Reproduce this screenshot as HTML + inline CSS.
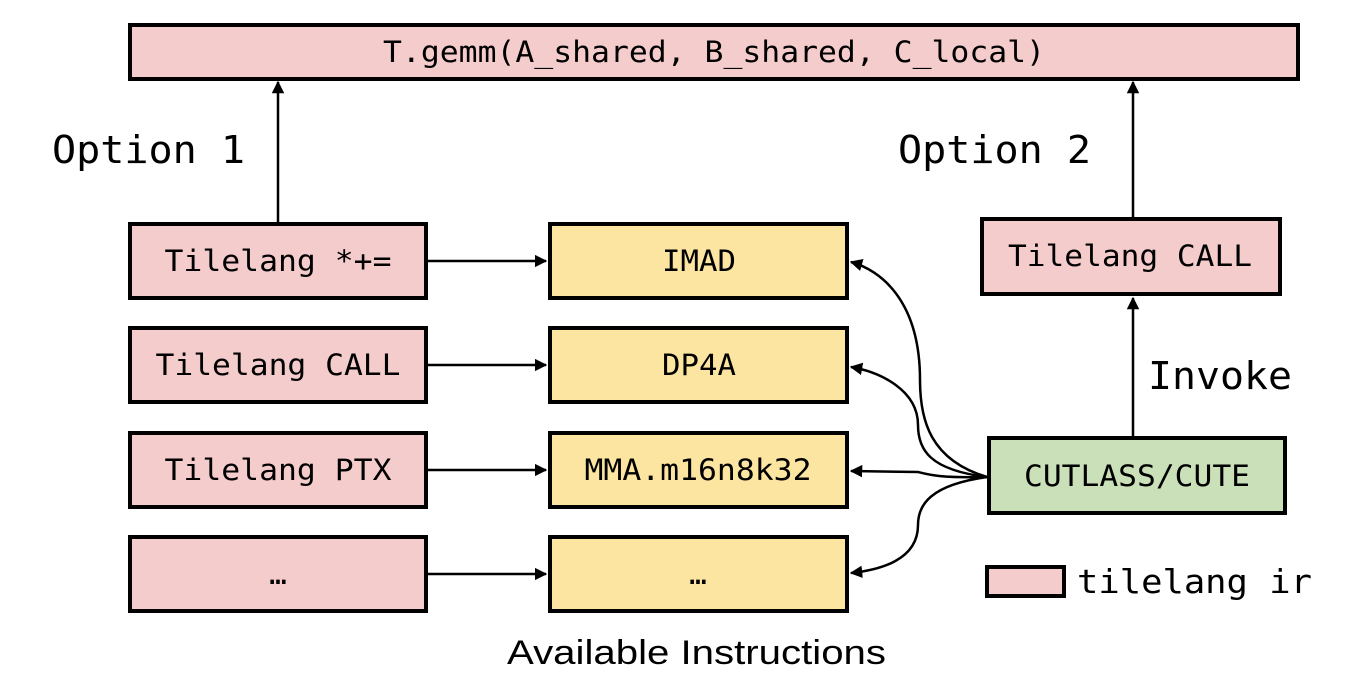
<!DOCTYPE html>
<html><head><style>
body{margin:0;background:#fff}
svg{display:block}
.m{font-family:"DejaVu Sans Mono","Liberation Mono",monospace}
</style></head><body>
<svg width="1352" height="696" viewBox="0 0 1352 696">
<defs><marker id="a" viewBox="0 0 10 10" refX="9" refY="5" markerWidth="5" markerHeight="5" orient="auto"><path d="M0,0L10,5L0,10z" fill="#000"/></marker></defs>
<g stroke="#000" stroke-width="4">
<rect x="130" y="25" width="1168" height="54" fill="#f5cccc"/>
<rect x="130" y="224" width="296" height="74" fill="#f5cccc"/>
<rect x="130" y="328" width="296" height="74" fill="#f5cccc"/>
<rect x="130" y="433" width="296" height="74" fill="#f5cccc"/>
<rect x="130" y="537" width="296" height="74" fill="#f5cccc"/>
<rect x="550" y="224" width="297" height="74" fill="#fbe5a0"/>
<rect x="550" y="328" width="297" height="74" fill="#fbe5a0"/>
<rect x="550" y="433" width="297" height="74" fill="#fbe5a0"/>
<rect x="550" y="537" width="297" height="74" fill="#fbe5a0"/>
<rect x="982" y="219" width="298" height="75" fill="#f5cccc"/>
<rect x="989" y="438" width="296" height="75" fill="#c9e0b8"/>
<rect x="987" y="567" width="77" height="29" fill="#f5cccc"/>
</g>
<g stroke="#000" stroke-width="2.5" fill="none" marker-end="url(#a)">
<path d="M278,222V82"/>
<path d="M1133,217V82"/>
<path d="M1133,436V298"/>
<path d="M427,261H546"/>
<path d="M427,365H546"/>
<path d="M427,470H546"/>
<path d="M427,574H546"/>
<path d="M987,477C930,460 920,420 920,380C920,300 880,270 851,262"/>
<path d="M987,477C930,470 918,450 918,425C918,390 880,372 851,367"/>
<path d="M987,477C940,478 930,475 918,472L851,471"/>
<path d="M987,477C930,485 918,505 918,525C918,560 880,570 851,573"/>
</g>
<g class="m" font-size="29" text-anchor="middle" fill="#000" lengthAdjust="spacingAndGlyphs">
<text x="714" y="62" textLength="662" lengthAdjust="spacingAndGlyphs">T.gemm(A_shared, B_shared, C_local)</text>
<text x="278" y="271" textLength="227" lengthAdjust="spacingAndGlyphs">Tilelang *+=</text>
<text x="278" y="375" textLength="245" lengthAdjust="spacingAndGlyphs">Tilelang CALL</text>
<text x="278" y="480" textLength="227" lengthAdjust="spacingAndGlyphs">Tilelang PTX</text>
<text x="278" y="584">…</text>
<text x="699" y="271" textLength="74" lengthAdjust="spacingAndGlyphs">IMAD</text>
<text x="699" y="375" textLength="74" lengthAdjust="spacingAndGlyphs">DP4A</text>
<text x="698" y="480" textLength="227" lengthAdjust="spacingAndGlyphs">MMA.m16n8k32</text>
<text x="698" y="584">…</text>
<text x="1130" y="266" textLength="244" lengthAdjust="spacingAndGlyphs">Tilelang CALL</text>
<text x="1137" y="486" textLength="226" lengthAdjust="spacingAndGlyphs">CUTLASS/CUTE</text>
</g>
<g class="m" font-size="38" fill="#000">
<text x="52" y="163" textLength="193" lengthAdjust="spacingAndGlyphs">Option 1</text>
<text x="898" y="163" textLength="193" lengthAdjust="spacingAndGlyphs">Option 2</text>
<text x="1148" y="389" textLength="144" lengthAdjust="spacingAndGlyphs">Invoke</text>
<text x="1077" y="593" font-size="33" textLength="235" lengthAdjust="spacingAndGlyphs">tilelang ir</text>
</g>
<text x="507" y="664" font-family="Liberation Sans,sans-serif" font-size="34" textLength="379" lengthAdjust="spacingAndGlyphs">Available Instructions</text>
</svg>
</body></html>
